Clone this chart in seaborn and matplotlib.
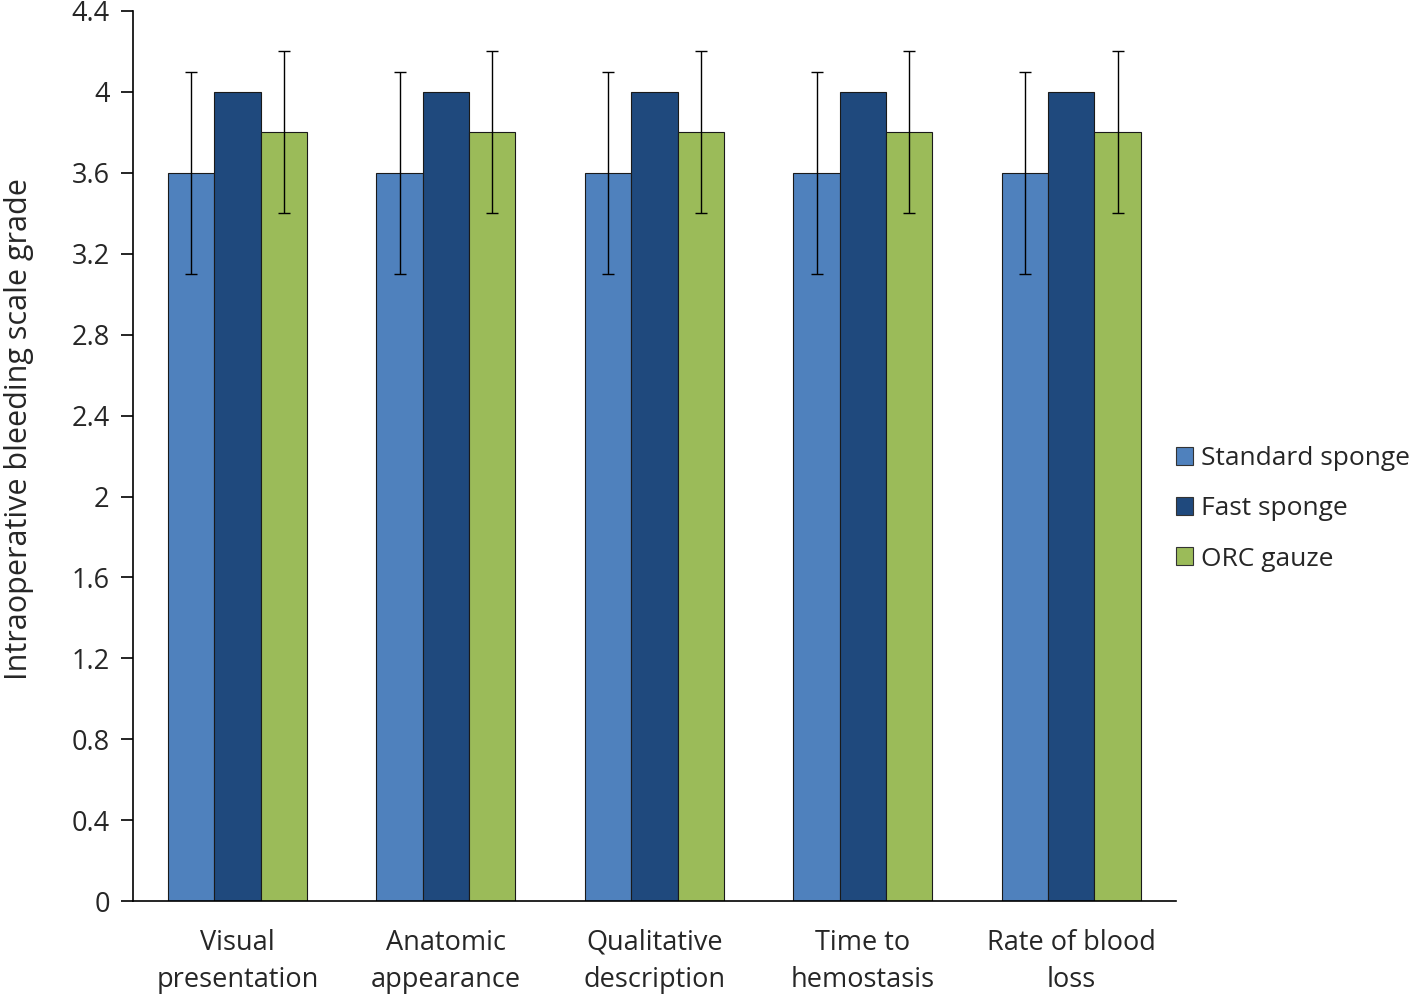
import pandas as pd
import numpy as np
import seaborn as sns
import matplotlib.pyplot as plt
from matplotlib.ticker import FixedLocator

# values
categories = ['Visual\npresentation', 'Anatomic\nappearance', 'Qualitative\ndescription',
              'Time to\nhemostasis', 'Rate of blood\nloss']
groups = ['Standard sponge', 'Fast sponge', 'ORC gauze']
standard = [3.6, 3.6, 3.6, 3.6, 3.6]
fast = [4.0, 4.0, 4.0, 4.0, 4.0]
orc = [3.8, 3.8, 3.8, 3.8, 3.8]
standard_err = [0.5, 0.5, 0.5, 0.5, 0.5]
fast_err = [0, 0, 0, 0, 0]  # no error bar drawn
orc_err = [0.4, 0.4, 0.4, 0.4, 0.4]
colors = ['#4F81BD', '#1F497D', '#9BBB59']

df = pd.DataFrame({
    'category': categories * 3,
    'group': [g for g in groups for _ in categories],
    'value': standard + fast + orc,
    'err': standard_err + fast_err + orc_err,
})

sns.set_style('white')
plt.rcParams['font.family'] = ['Open Sans', 'DejaVu Sans']

fig = plt.figure(figsize=(14.18, 9.98), dpi=100)
ax = fig.add_axes([0.094, 0.097, 0.735, 0.892])

sns.barplot(data=df, x='category', y='value', hue='group', order=categories,
            hue_order=groups, palette=colors, errorbar=None, width=0.667,
            edgecolor='#1a1a1a', linewidth=0.8, saturation=1, ax=ax)

# error bars placed on the bar centres
for cont, g in zip(ax.containers, groups):
    sub = df[df.group == g].set_index('category').loc[categories]
    xs = [b.get_x() + b.get_width() / 2 for b in cont]
    errs = sub['err'].values
    mask = errs > 0
    if mask.any():
        ax.errorbar(np.array(xs)[mask], sub['value'].values[mask], yerr=errs[mask],
                    fmt='none', ecolor='black', elinewidth=1, capsize=4.5, capthick=1)

ax.set_ylim(0, 4.4)
ax.set_yticks(np.arange(0, 4.41, 0.4))
ax.set_yticklabels(['0', '0.4', '0.8', '1.2', '1.6', '2', '2.4', '2.8', '3.2', '3.6', '4', '4.4'])
ax.set_xlim(-0.5, 4.5)
ax.xaxis.set_minor_locator(FixedLocator(np.arange(-0.5, 4.6, 1)))
ax.tick_params(axis='x', which='major', length=0, pad=20, labelsize=19.5)
ax.tick_params(axis='x', which='minor', length=9, width=1.2, color='black', direction='out')
ax.tick_params(axis='y', length=9, width=1.2, color='black', direction='out', labelsize=19.5, pad=8)
ax.tick_params(bottom=True, left=True)
for lab in ax.get_xticklabels():
    lab.set_linespacing(1.45)

for s in ['top', 'right']:
    ax.spines[s].set_visible(False)
for s in ['left', 'bottom']:
    ax.spines[s].set_color('black')
    ax.spines[s].set_linewidth(1.2)

ax.set_xlabel('')
ax.set_ylabel('Intraoperative bleeding scale grade', fontsize=22, labelpad=22)
ax.yaxis.set_label_coords(-0.095, 0.53)

ax.get_legend().remove()
handles = [plt.Rectangle((0, 0), 1, 1, facecolor=c, edgecolor='#333333', linewidth=0.8) for c in colors]
fig.legend(handles, groups, loc='center left', bbox_to_anchor=(0.829, 0.49),
           frameon=False, fontsize=19, handlelength=0.65, handleheight=0.65,
           handletextpad=0.3, labelspacing=0.95, borderpad=0, borderaxespad=0)

fig.savefig('out.png', dpi=100)
